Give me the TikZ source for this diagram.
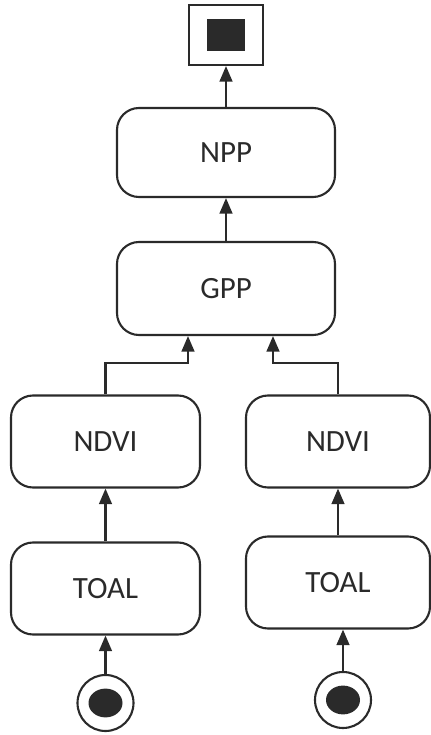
\documentclass[tikz,border=0pt]{standalone}
\usepackage{fontspec}
\setmainfont{Carlito}
\usetikzlibrary{arrows.meta}
\definecolor{ink}{HTML}{2A2A2A}
\begin{document}
\begin{tikzpicture}[
		stage/.style={draw=ink, line width=1.5pt, rounded corners=0.55cm, minimum height=2.3cm, text=ink, font=\fontsize{22}{26}\selectfont},
		flow/.style={-{Triangle[width=9pt,length=11pt]}, draw=ink, line width=1.5pt},
	]
		\useasboundingbox (0, 0) rectangle (10.775, 18.375);
		% outcome box at the top
		\node[draw=ink, line width=1.5pt, minimum width=1.85cm, minimum height=1.5cm] (ende) at (5.65, 17.5) {};
		\fill[ink] (5.175, 17.1) rectangle (6.125, 17.9);
		\node[stage, minimum width=5.45cm, minimum height=2.225cm] (npp) at (5.65, 14.5625) {NPP};
		\node[stage, minimum width=5.45cm, minimum height=2.325cm] (gpp) at (5.65, 11.1625) {GPP};
		\node[stage, minimum width=4.725cm] (ndviL) at (2.6375, 7.3375) {NDVI};
		\node[stage, minimum width=4.6cm] (ndviR) at (8.45, 7.3375) {NDVI};
		\node[stage, minimum width=4.725cm] (toalL) at (2.6375, 3.6625) {TOAL};
		\node[stage, minimum width=4.6cm] (toalR) at (8.45, 3.8125) {TOAL};
		% start points
		\node[draw=ink, line width=1.5pt, circle, minimum size=1.4cm] (startL) at (2.6375, 0.8) {};
		\node[draw=ink, line width=1.5pt, circle, minimum size=1.4cm] (startR) at (8.575, 0.875) {};
		\fill[ink] (startL) ellipse (0.425 and 0.36);
		\fill[ink] (startR) ellipse (0.425 and 0.36);
		\draw[flow] (startL.north) -- (toalL.south);
		\draw[flow] (startR.north) -- (startR.north |- toalR.south);
		\draw[flow] (toalL.north) -- (ndviL.south);
		\draw[flow] (toalR.north) -- (ndviR.south);
		\draw[flow] (ndviL.north) |- ([xshift=-0.95cm, yshift=-0.675cm]gpp.south) -- ([xshift=-0.95cm]gpp.south);
		\draw[flow] (ndviR.north) |- ([xshift=1.175cm, yshift=-0.675cm]gpp.south) -- ([xshift=1.175cm]gpp.south);
		\draw[flow] (gpp.north) -- (npp.south);
		\draw[flow] (npp.north) -- (ende.south);
	\end{tikzpicture}
\end{document}
